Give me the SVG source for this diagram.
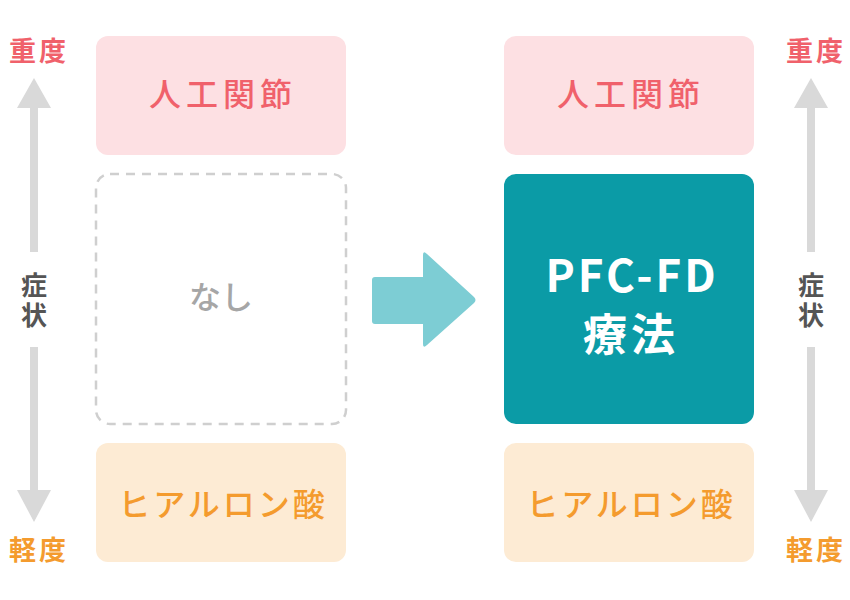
<svg xmlns="http://www.w3.org/2000/svg" width="850" height="600" viewBox="0 0 850 600">
<style>
.t{font-family:"Noto Sans CJK JP","Noto Sans",sans-serif;text-anchor:middle}
.pink{fill:#fde0e3}
.pinkt{fill:#f0616b;font-size:32px;font-weight:500;letter-spacing:5px}
.orng{fill:#fdebd4}
.orngt{fill:#f49b2e;font-size:32px;font-weight:500;letter-spacing:3px}
.sev{fill:#f0616b;font-size:27px;font-weight:bold;letter-spacing:3px}
.mild{fill:#f49b2e;font-size:27px;font-weight:bold;letter-spacing:3px}
.axl{fill:#555;font-size:26px;font-weight:bold;writing-mode:vertical-rl;letter-spacing:4px}
.gray{fill:#d9d9d9}
</style>
<rect width="850" height="600" fill="#ffffff"/>
<g id="axis-left">
<polygon class="gray" points="34,78 51,108 38,108 38,252 30,252 30,108 17,108"/>
<polygon class="gray" points="30,347 38,347 38,490 51,490 34,522 17,490 30,490"/>
<text class="t sev" x="39" y="61">重度</text>
<text class="t axl" x="34" y="302">症状</text>
<text class="t mild" x="39" y="560">軽度</text>
</g>
<g id="axis-right">
<polygon class="gray" points="811,78 828,108 815,108 815,252 807,252 807,108 794,108"/>
<polygon class="gray" points="807,347 815,347 815,490 828,490 811,522 794,490 807,490"/>
<text class="t sev" x="816" y="61">重度</text>
<text class="t axl" x="811" y="302">症状</text>
<text class="t mild" x="816" y="560">軽度</text>
</g>
<g id="left-artificial-joint">
<rect class="pink" x="96" y="36" width="250" height="119" rx="12"/>
<text class="t pinkt" x="223" y="106">人工関節</text>
</g>
<g id="left-none">
<rect x="96" y="174" width="250" height="250" rx="14" fill="none" stroke="#cfcfcf" stroke-width="2.5" stroke-dasharray="9,7"/>
<text class="t" x="221" y="309" font-size="32" font-weight="500" fill="#a6a6a6">なし</text>
</g>
<g id="left-hyaluronic">
<rect class="orng" x="96" y="443" width="250" height="119" rx="12"/>
<text class="t orngt" x="223" y="516">ヒアルロン酸</text>
</g>
<g id="right-artificial-joint">
<rect class="pink" x="504" y="36" width="250" height="119" rx="12"/>
<text class="t pinkt" x="631" y="106">人工関節</text>
</g>
<g id="right-pfc-fd">
<rect x="504" y="174" width="250" height="250" rx="12" fill="#0b9ba6"/>
<text class="t" x="632" y="292" font-size="44" font-weight="bold" fill="#ffffff" letter-spacing="3">PFC-FD</text>
<text class="t" x="631" y="351" font-size="44" font-weight="bold" fill="#ffffff" letter-spacing="4">療法</text>
</g>
<g id="right-hyaluronic">
<rect class="orng" x="504" y="443" width="250" height="119" rx="12"/>
<text class="t orngt" x="631" y="516">ヒアルロン酸</text>
</g>
<g id="connectors">
<path d="M375,277 H423 V255 Q423,250 427,254 L474,297 Q477,300 474,303 L427,345 Q423,349 423,344 V324 H375 Q372,324 372,321 V280 Q372,277 375,277 Z" fill="#7dcdd4"/>
</g>
</svg>
